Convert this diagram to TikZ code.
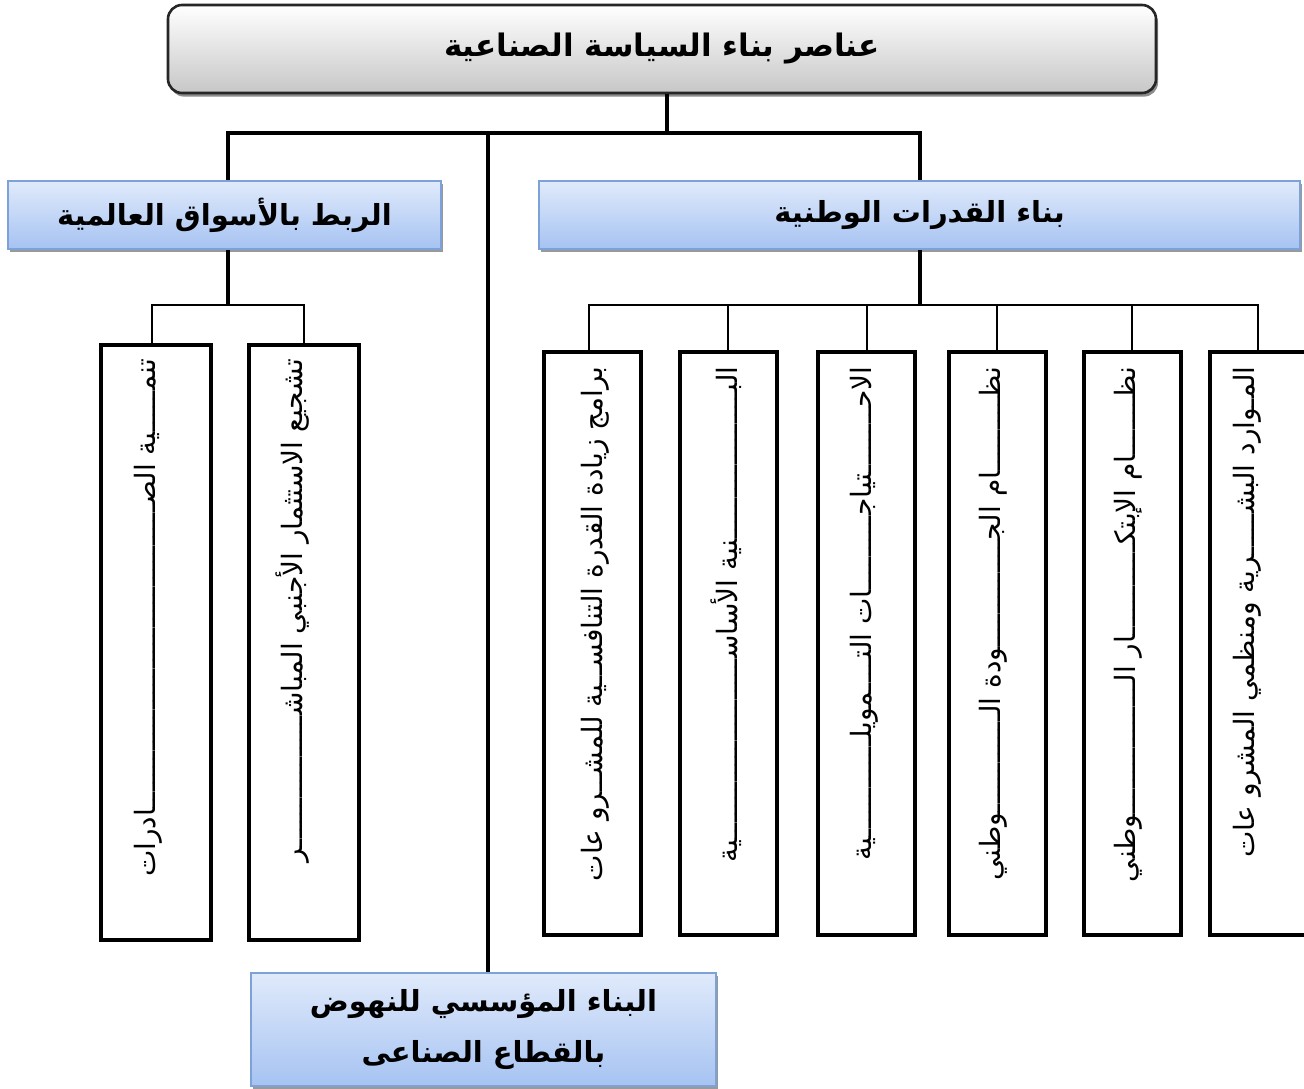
\documentclass[tikz,border=0pt]{standalone}
\usepackage{fontspec}
\TeXXeTstate=1
\newfontfamily\ar[Script=Arabic]{DejaVu Sans}
\usetikzlibrary{shadows}
\definecolor{bluetop}{HTML}{E0EAFB}
\definecolor{bluebot}{HTML}{A6C3F2}
\definecolor{blueline}{HTML}{7DA2D8}
\begin{document}
\begin{tikzpicture}[x=0.5pt,y=-0.5pt,
  titlebox/.style={draw=black!85, line width=1.3pt, rounded corners=7pt,
    top color=white, bottom color=black!22,
    drop shadow={shadow xshift=1pt,shadow yshift=-1.8pt,fill=black!45,opacity=1},
    font=\ar\bfseries\fontsize{15.5}{19}\selectfont},
  headbox/.style={draw=blueline, line width=1pt,
    top color=bluetop, bottom color=bluebot,
    drop shadow={shadow xshift=1.2pt,shadow yshift=-1.5pt,fill=black!40,opacity=1},
    font=\ar\bfseries\fontsize{14.5}{25}\selectfont},
  leafbox/.style={draw=black, line width=2pt, fill=white},
  leaftext/.style={rotate=90, anchor=east, inner sep=0pt,
    font=\ar\fontsize{14}{16}\selectfont},
  trunk/.style={line width=2pt},
  twig/.style={line width=1pt},
]
\useasboundingbox (0,0) rectangle (1304,1088);
% title
\node[titlebox, minimum width=494pt, minimum height=44pt] (top) at (662,49)
  {\beginR عناصر بناء السياسة الصناعية\endR};
% headers
\node[headbox, minimum width=216.5pt, minimum height=34pt] (lhead) at (224.5,215)
  {\beginR الربط بالأسواق العالمية\endR};
\node[headbox, minimum width=380.5pt, minimum height=34pt] (rhead) at (919.5,215)
  {\beginR بناء القدرات الوطنية\endR};
\node[headbox, minimum width=232.5pt, minimum height=56.5pt, align=center] (bottom) at (483.5,1029.5)
  {\beginR البناء المؤسسي للنهوض\endR\\ \beginR بالقطاع الصناعى\endR};
% connectors from title
\coordinate (bus) at (0,133);
\draw[trunk] ([xshift=2.5pt]top.south) -- ([xshift=2.5pt]top.south |- bus);
\draw[trunk] ([xshift=1.5pt]lhead.north) |- (bus -| rhead.north) -- (rhead.north);
\draw[trunk] ([xshift=2pt]bottom.north) -- ([xshift=2pt]bottom.north |- bus);
% leaves left
\node[leafbox, minimum width=55pt, minimum height=297.5pt] (la) at (156,642.5) {};
\node[leafbox, minimum width=55pt, minimum height=297.5pt] (lb) at (304,642.5) {};
\node[leaftext] (ta) at (148,358) {\beginR تنمـــــية الصـــــــــــــــــــــــــــــــــــــادرات\endR};
\node[leaftext] (tb) at (293,358) {\beginR تشجيع الاستثمار الأجنبي المباشــــــــــــــــر\endR};
% leaves right
\node[leafbox, minimum width=48.5pt, minimum height=291.5pt] (r1) at (592.5,643.5) {};
\node[leafbox, minimum width=48.5pt, minimum height=291.5pt] (r2) at (728,643.5) {};
\node[leafbox, minimum width=48.5pt, minimum height=291.5pt] (r3) at (866.5,643.5) {};
\node[leafbox, minimum width=48.5pt, minimum height=291.5pt] (r4) at (997,643.5) {};
\node[leafbox, minimum width=48.5pt, minimum height=291.5pt] (r5) at (1132,643.5) {};
\node[leafbox, minimum width=48.5pt, minimum height=291.5pt] (r6) at (1258,643.5) {};
\node[leaftext] (t1) at (595,366) {\beginR برامج زيادة القدرة التنافســية للمشــرو عات\endR};
\node[leaftext] (t2) at (726,366) {\beginR البــــــــــــــــــنية الأساســــــــــــــــــــــية\endR};
\node[leaftext] (t3) at (864,366) {\beginR الاحــــــــتياجـــــــــات التــــمويلــــــــــــية\endR};
\node[leaftext] (t4) at (993,366) {\beginR نظـــــــــام الجـــــــــــــودة الــــــــــــوطني\endR};
\node[leaftext] (t5) at (1128,366) {\beginR نظـــــــام الإبتكـــــــــــار الــــــــــــــــوطني\endR};
\node[leaftext] (t6) at (1247,366) {\beginR المـوارد البشـــــرية ومنظمي المشرو عات\endR};
% sub connectors
\coordinate (sbus) at (0,305);
\draw[trunk] ([xshift=1.5pt]lhead.south) -- ([xshift=1.5pt]lhead.south |- sbus);
\draw[twig] ([xshift=-2pt]la.north) |- (sbus -| lb.north) -- (lb.north);
\draw[trunk] (rhead.south) -- (rhead.south |- sbus);
\draw[twig] ([xshift=-2pt]r1.north) |- (sbus -| r6.north) -- (r6.north);
\foreach \n in {r2,r3,r4,r5} \draw[twig] (\n.north) -- (\n.north |- sbus);
\end{tikzpicture}
\end{document}
